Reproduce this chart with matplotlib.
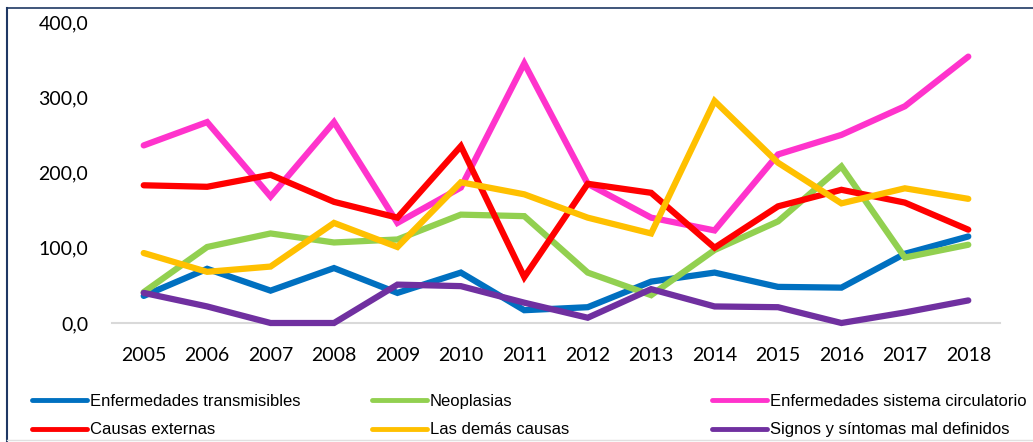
import matplotlib.pyplot as plt
from matplotlib.lines import Line2D
from matplotlib.ticker import FuncFormatter

years = list(range(2005, 2019))

transmisibles = [36, 72, 43, 73, 40, 67, 17, 21, 55, 67, 48, 47, 92, 115]
neoplasias = [41, 101, 119, 107, 111, 144, 142, 67, 37, 97, 135, 208, 87, 104]
circulatorio = [236, 267, 168, 267, 133, 180, 345, 185, 140, 123, 224, 250, 288, 354]
externas = [183, 181, 197, 161, 140, 235, 61, 185, 173, 100, 155, 177, 160, 124]
demas = [93, 68, 75, 133, 101, 187, 171, 140, 119, 295, 213, 159, 179, 165]
signos = [40, 22, 0, 0, 51, 49, 27, 7, 45, 22, 21, 0, 14, 30]

series = [
    ("Enfermedades transmisibles", transmisibles, "#0070C0"),
    ("Neoplasias", neoplasias, "#92D050"),
    ("Enfermedades sistema circulatorio", circulatorio, "#FF33CC"),
    ("Causas externas", externas, "#FF0000"),
    ("Las demás causas", demas, "#FFC000"),
    ("Signos y síntomas mal definidos", signos, "#7030A0"),
]

W, H = 1033, 442
fig = plt.figure(figsize=(W / 100, H / 100), dpi=100)
ax = fig.add_axes([112 / W, (H - 323) / H, (1000 - 112) / W, (323 - 22) / H])

handles = []
for name, vals, col in series:
    ln, = ax.plot(years, vals, color=col, lw=4.5, solid_capstyle="round",
                  solid_joinstyle="miter", label=name, clip_on=False)
    handles.append(ln)

ax.set_xlim(2004.5, 2018.5)
ax.set_ylim(0, 400)
ax.set_xticks(years)
ax.set_yticks([0, 100, 200, 300, 400])
ax.yaxis.set_major_formatter(FuncFormatter(lambda v, p: f"{v:.1f}".replace(".", ",")))
ax.tick_params(length=0, labelsize=14, pad=17)
for lab in ax.get_xticklabels() + ax.get_yticklabels():
    lab.set_family("Lato")
for s in ["top", "right", "left"]:
    ax.spines[s].set_visible(False)
ax.spines["bottom"].set_color("#D9D9D9")
ax.spines["bottom"].set_linewidth(1.5)
ax.spines["bottom"].set_zorder(0)

# legend: 3 columns placed by hand
col_x = [32, 372, 712]
for i in range(3):
    hs = [handles[i], handles[i + 3]]
    leg = fig.legend(hs, [h.get_label() for h in hs], loc="upper left",
                     bbox_to_anchor=(col_x[i] / W, (H - 394) / H),
                     frameon=False, borderpad=0, borderaxespad=0,
                     handlelength=3.3, handletextpad=0.18, labelspacing=0.8,
                     prop={"family": "Liberation Sans", "size": 12})
    for lh in leg.get_lines():
        lh.set_linewidth(3.5)

# outer frame of the original chart box
fig.add_artist(Line2D([7 / W, 7 / W], [0, (H - 8) / H], color="#1F3864", lw=1.5))
fig.add_artist(Line2D([7 / W, 1], [(H - 8) / H, (H - 8) / H], color="#1F3864", lw=1.2))
fig.add_artist(Line2D([7 / W, 1], [(H - 440) / H, (H - 440) / H], color="#E0E0E0", lw=1))

fig.savefig("out.png", dpi=100)
